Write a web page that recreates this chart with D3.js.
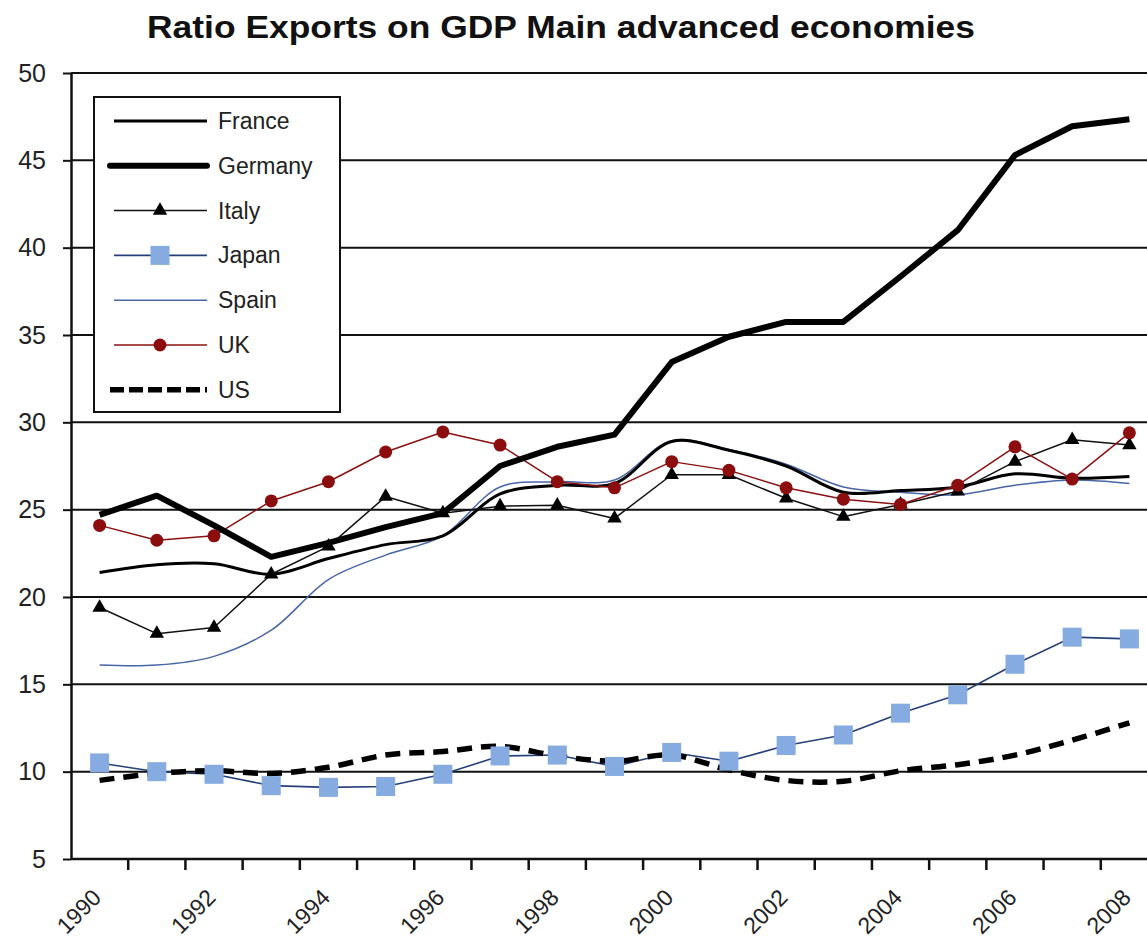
<!DOCTYPE html>
<html>
<head>
<meta charset="utf-8">
<script src="https://cdn.jsdelivr.net/npm/d3@7"></script>
<style>
  html, body { margin: 0; padding: 0; background: #fff; }
  svg { display: block; font-family: "Liberation Sans", Arial, sans-serif; }
</style>
</head>
<body>
<svg id="chart" width="1147" height="941"></svg>
<script>
// Years on the category axis
const years = [1990,1991,1992,1993,1994,1995,1996,1997,1998,1999,2000,2001,2002,2003,2004,2005,2006,2007,2008];
const yearLabels = ["1990","","1992","","1994","","1996","","1998","","2000","","2002","","2004","","2006","","2008"];
const yTicks = [5,10,15,20,25,30,35,40,45,50];

// Exports as % of GDP
const france  = [21.4,21.85,21.9,21.3,22.2,23.0,23.5,25.9,26.4,26.5,28.9,28.4,27.5,26.0,26.1,26.3,27.05,26.8,26.9];
const germany = [24.7,25.8,24.1,22.3,23.1,24.0,24.8,27.5,28.6,29.3,33.45,34.9,35.75,35.75,38.35,41.0,45.3,46.95,47.35];
const italy   = [19.4,17.9,18.25,21.3,22.9,25.75,24.8,25.2,25.25,24.5,27.0,27.0,25.65,24.6,25.3,26.05,27.75,29.0,28.7];
const japan   = [10.5,10.0,9.85,9.2,9.1,9.15,9.85,10.9,10.95,10.3,11.1,10.6,11.5,12.1,13.35,14.4,16.15,17.7,17.6];
const spain   = [16.1,16.1,16.6,18.1,21.0,22.4,23.5,26.3,26.6,26.7,28.95,28.45,27.6,26.3,26.0,25.85,26.4,26.7,26.5];
const uk      = [24.1,23.25,23.5,25.5,26.6,28.3,29.45,28.7,26.6,26.25,27.75,27.25,26.25,25.6,25.3,26.4,28.6,26.75,29.4];
const us      = [9.5,9.9,10.05,9.9,10.25,10.95,11.15,11.45,10.9,10.6,10.95,10.1,9.5,9.45,10.05,10.4,10.95,11.8,12.8];

const seriesNames = ["France","Germany","Italy","Japan","Spain","UK","US"];

const svg = d3.select("#chart");

const x = d3.scaleBand().domain(years).range([71, 1158]).paddingInner(0).paddingOuter(0);
const y = d3.scaleLinear().domain([5, 50]).range([859, 73]);
const cx = d => x(d) + x.bandwidth() / 2;

// Title
svg.append("text")
  .attr("x", 147).attr("y", 38)
  .attr("textLength", 828).attr("lengthAdjust", "spacingAndGlyphs")
  .style("font-size", "32px").style("font-weight", "bold").style("fill", "#111")
  .text("Ratio Exports on GDP Main advanced economies");

// Horizontal gridlines
svg.append("g").selectAll("line")
  .data(yTicks.filter(t => t > 5))
  .join("line")
  .attr("x1", 71).attr("x2", 1158)
  .attr("y1", d => y(d)).attr("y2", d => y(d))
  .attr("stroke", "#111").attr("stroke-width", 2);

// Y axis
const yAxis = svg.append("g").attr("transform", "translate(71,0)")
  .call(d3.axisLeft(y).tickValues(yTicks).tickSize(8).tickPadding(17).tickSizeOuter(0));
yAxis.select(".domain").attr("stroke", "#111").attr("stroke-width", 2.5);
yAxis.selectAll(".tick line").attr("stroke", "#111").attr("stroke-width", 2);
yAxis.selectAll(".tick text").style("font-size", "25px").style("fill", "#222")
  .style("font-family", "'Liberation Sans', Arial, sans-serif");

// X axis: tick marks between categories
const xAxisG = svg.append("g").attr("transform", "translate(0,859)");
xAxisG.append("line").attr("x1", 71).attr("x2", 1158).attr("y1", 0).attr("y2", 0)
  .attr("stroke", "#111").attr("stroke-width", 2.5);
xAxisG.selectAll("line.tk")
  .data(years)
  .join("line").attr("class", "tk")
  .attr("x1", d => x(d) + x.bandwidth()).attr("x2", d => x(d) + x.bandwidth())
  .attr("y1", 0).attr("y2", 11)
  .attr("stroke", "#111").attr("stroke-width", 2.5);
xAxisG.selectAll("text")
  .data(years.map((d, i) => ({ year: d, label: yearLabels[i] })).filter(d => d.label))
  .join("text")
  .attr("transform", d => `translate(${cx(d.year) + 3},${40}) rotate(-45)`)
  .attr("text-anchor", "end")
  .style("font-size", "23px").style("fill", "#222")
  .text(d => d.label);

// Series styles
const styles = {
  France:  { data: france,  stroke: "#000", width: 3,   curve: d3.curveCatmullRom.alpha(0.5) },
  Germany: { data: germany, stroke: "#000", width: 6,   curve: d3.curveLinear },
  Italy:   { data: italy,   stroke: "#111", width: 1.5, curve: d3.curveLinear, marker: "triangle" },
  Japan:   { data: japan,   stroke: "#25407a", width: 1.6, curve: d3.curveLinear, marker: "square" },
  Spain:   { data: spain,   stroke: "#4666a8", width: 1.5, curve: d3.curveCatmullRom.alpha(0.5) },
  UK:      { data: uk,      stroke: "#8b1010", width: 1.5, curve: d3.curveLinear, marker: "circle" },
  US:      { data: us,      stroke: "#000", width: 5.5, curve: d3.curveCatmullRom.alpha(0.5), dash: "15,9" }
};

const drawOrder = ["Spain","Japan","France","Italy","UK","US","Germany"];
const plot = svg.append("g");

drawOrder.forEach(name => {
  const s = styles[name];
  const line = d3.line().x((d, i) => cx(years[i])).y(d => y(d)).curve(s.curve);
  plot.append("path")
    .attr("d", line(s.data))
    .attr("fill", "none")
    .attr("stroke", s.stroke)
    .attr("stroke-width", s.width)
    .attr("stroke-linejoin", "round")
    .attr("stroke-dasharray", s.dash || null);
});

function drawMarker(g, type, px, py) {
  if (type === "triangle") {
    g.append("path").attr("d", d3.symbol(d3.symbolTriangle, 90)())
      .attr("transform", `translate(${px},${py})`).attr("fill", "#000");
  } else if (type === "square") {
    g.append("rect").attr("x", px - 9.5).attr("y", py - 9.5).attr("width", 19).attr("height", 19)
      .attr("fill", "#86abe0");
  } else if (type === "circle") {
    g.append("circle").attr("cx", px).attr("cy", py).attr("r", 6.5).attr("fill", "#8b0d0d");
  }
}

["Japan","Italy","UK"].forEach(name => {
  const s = styles[name];
  s.data.forEach((v, i) => drawMarker(plot, s.marker, cx(years[i]), y(v)));
});

// Legend
const legend = svg.append("g");
legend.append("rect").attr("x", 94).attr("y", 97).attr("width", 246).attr("height", 315)
  .attr("fill", "#fff").attr("stroke", "#111").attr("stroke-width", 2);
seriesNames.forEach((name, i) => {
  const s = styles[name];
  const ly = 121 + i * 44.8;
  const x1 = (name === "Germany" || name === "US") ? 110 : 114;
  legend.append("line").attr("x1", x1).attr("x2", 207).attr("y1", ly).attr("y2", ly)
    .attr("stroke", s.stroke).attr("stroke-width", s.width)
    .attr("stroke-linecap", name === "Germany" ? "round" : "butt")
    .attr("stroke-dasharray", s.dash ? "14,5" : null);
  if (s.marker) drawMarker(legend, s.marker, 160, ly);
  legend.append("text").attr("x", 218).attr("y", ly + 8)
    .style("font-size", "23px").style("fill", "#222").text(name);
});
</script>
</body>
</html>
